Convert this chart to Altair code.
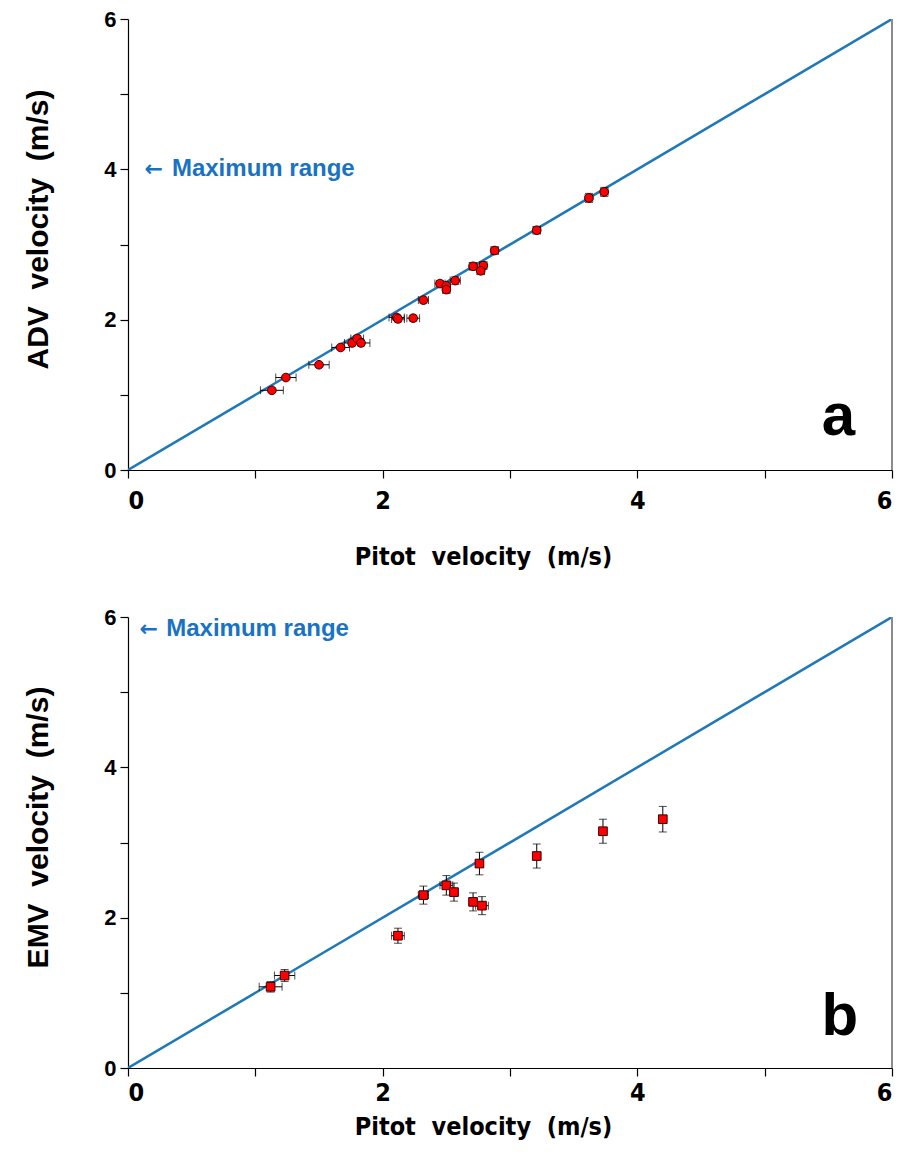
import altair as alt
import pandas as pd

# ---- Panel a: ADV vs Pitot ----
a_pitot = [1.13, 1.24, 1.50, 1.67, 1.76, 1.80, 1.83, 2.11, 2.12, 2.24, 2.32, 2.45,
           2.50, 2.50, 2.57, 2.71, 2.79, 2.77, 2.88, 3.21, 3.62, 3.74]
a_adv = [1.06, 1.23, 1.40, 1.63, 1.69, 1.75, 1.69, 2.03, 2.01, 2.02, 2.26, 2.48,
         2.45, 2.40, 2.52, 2.71, 2.72, 2.65, 2.92, 3.19, 3.62, 3.70]
a_pitot_err = [0.09, 0.08, 0.08, 0.07, 0.06, 0.05, 0.07, 0.06, 0.05, 0.05, 0.04, 0.04,
               0.03, 0.03, 0.04, 0.03, 0.03, 0.03, 0.03, 0.03, 0.03, 0.03]
a_adv_err = [0.03, 0.03, 0.03, 0.03, 0.04, 0.04, 0.04, 0.04, 0.04, 0.04, 0.04, 0.04,
             0.05, 0.05, 0.05, 0.05, 0.05, 0.05, 0.05, 0.05, 0.06, 0.06]

# ---- Panel b: EMV vs Pitot ----
b_pitot = [1.12, 1.23, 2.12, 2.32, 2.50, 2.56, 2.71, 2.78, 2.76, 3.21, 3.73, 4.20]
b_emv = [1.08, 1.23, 1.76, 2.30, 2.43, 2.34, 2.21, 2.16, 2.72, 2.82, 3.15, 3.31]
b_pitot_err = [0.09, 0.08, 0.05, 0.04, 0.05, 0.03, 0.03, 0.05, 0.03, 0.03, 0.02, 0.02]
b_emv_err = [0.07, 0.08, 0.10, 0.12, 0.13, 0.12, 0.12, 0.12, 0.15, 0.16, 0.16, 0.17]

line_x = [0, 6]
line_y = [0, 6]
axis_ticks = [0, 1, 2, 3, 4, 5, 6]

BLUE = "#1f78b8"
TEXT_BLUE = "#1a72c2"
XFONT = "DejaVu Sans Condensed, Liberation Sans, sans-serif"
SP = "\u00a0 "


def panel(px, py, pxe, pye, ytitle, letter, arrow_xy, range_x, letter_xy, shape,
          xlabpad, xtitlepad):
    df = pd.DataFrame({
        "x": px, "y": py,
        "xlo": [a - e for a, e in zip(px, pxe)],
        "xhi": [a + e for a, e in zip(px, pxe)],
        "ylo": [a - e for a, e in zip(py, pye)],
        "yhi": [a + e for a, e in zip(py, pye)],
    })
    xs = alt.Scale(domain=[0, 6], nice=False)
    ys = alt.Scale(domain=[0, 6], nice=False)
    xax = alt.Axis(values=axis_ticks, format="d",
                   labelExpr="datum.value % 2 == 0 ? datum.label : ''",
                   title="Pitot" + SP + "velocity" + SP + "(m/s)", titleFont=XFONT,
                   labelFont=XFONT, labelFontSize=25, titleFontSize=25,
                   labelPadding=xlabpad, titlePadding=xtitlepad, titleX=355)
    yax = alt.Axis(values=axis_ticks, format="d",
                   labelExpr="datum.value % 2 == 0 ? datum.label : ''",
                   title=ytitle, titleFont="Liberation Sans", labelFont="Liberation Sans",
                   labelFontSize=22, titleFontSize=30, labelPadding=4, titlePadding=50,
                   titleY=210)

    line_df = pd.DataFrame({"x": line_x, "y": line_y})
    diag = alt.Chart(line_df).mark_line(color=BLUE, strokeWidth=2.5, clip=True).encode(
        x=alt.X("x:Q", scale=xs, axis=xax), y=alt.Y("y:Q", scale=ys, axis=yax))
    border = alt.Chart(pd.DataFrame({"x": [6], "y": [0], "y2": [6]})).mark_rule(
        color="#8c8c8c", strokeWidth=2).encode(x="x:Q", y="y:Q", y2="y2:Q")

    base = alt.Chart(df)
    xbar = base.mark_rule(color="black", strokeWidth=1).encode(x="xlo:Q", x2="xhi:Q", y="y:Q")
    ybar = base.mark_rule(color="black", strokeWidth=1).encode(x="x:Q", y="ylo:Q", y2="yhi:Q")
    xcap1 = base.mark_tick(orient="vertical", color="black", size=8, thickness=1).encode(x="xlo:Q", y="y:Q")
    xcap2 = base.mark_tick(orient="vertical", color="black", size=8, thickness=1).encode(x="xhi:Q", y="y:Q")
    ycap1 = base.mark_tick(orient="horizontal", color="black", size=8, thickness=1).encode(x="x:Q", y="ylo:Q")
    ycap2 = base.mark_tick(orient="horizontal", color="black", size=8, thickness=1).encode(x="x:Q", y="yhi:Q")
    pts = base.mark_point(filled=True, shape=shape, size=75, fill="#ff0000", stroke="#3a0000",
                          strokeWidth=1, opacity=1).encode(x="x:Q", y="y:Q")

    arrow = alt.Chart(pd.DataFrame({"x": [arrow_xy[0]], "y": [arrow_xy[1]], "t": ["\u2190"]})).mark_text(
        align="left", baseline="middle", font="DejaVu Sans", fontWeight="bold", fontSize=22,
        color=TEXT_BLUE).encode(x="x:Q", y="y:Q", text="t:N")
    rng = alt.Chart(pd.DataFrame({"x": [range_x], "y": [arrow_xy[1]], "t": ["Maximum range"]})).mark_text(
        align="left", baseline="middle", font="Liberation Sans", fontWeight="bold", fontSize=24,
        color=TEXT_BLUE).encode(x="x:Q", y="y:Q", text="t:N")
    let = alt.Chart(pd.DataFrame({"x": [letter_xy[0]], "y": [letter_xy[1]], "t": [letter]})).mark_text(
        align="center", baseline="alphabetic", font="Liberation Sans", fontWeight="bold", fontSize=60,
        color="black").encode(x="x:Q", y="y:Q", text="t:N")

    return alt.layer(diag, border, xbar, ybar, xcap1, xcap2, ycap1, ycap2, pts, arrow, rng, let).properties(
        width=764, height=451)


pa = panel(a_pitot, a_adv, a_pitot_err, a_adv_err, "ADV" + SP + "velocity" + SP + "(m/s)", "a",
           (0.13, 4.0), 0.345, (5.58, 0.47), "circle", 10, 31)
pb = panel(b_pitot, b_emv, b_pitot_err, b_emv_err, "EMV" + SP + "velocity" + SP + "(m/s)", "b",
           (0.09, 5.84), 0.30, (5.59, 0.44), "square", 4, 9)

chart = alt.vconcat(pa, pb, spacing=37).properties(
    padding={"left": 23, "top": 8, "right": 5, "bottom": 5}
).configure_view(stroke=None).configure_axis(
    domainColor="black", tickColor="black", tickSize=8, domainWidth=1.2, tickWidth=1.2,
    labelColor="black", titleColor="black", labelFontWeight="bold", titleFontWeight="bold",
    grid=False
)

chart.save("out.html", embed_options={"renderer": "svg", "actions": False})
